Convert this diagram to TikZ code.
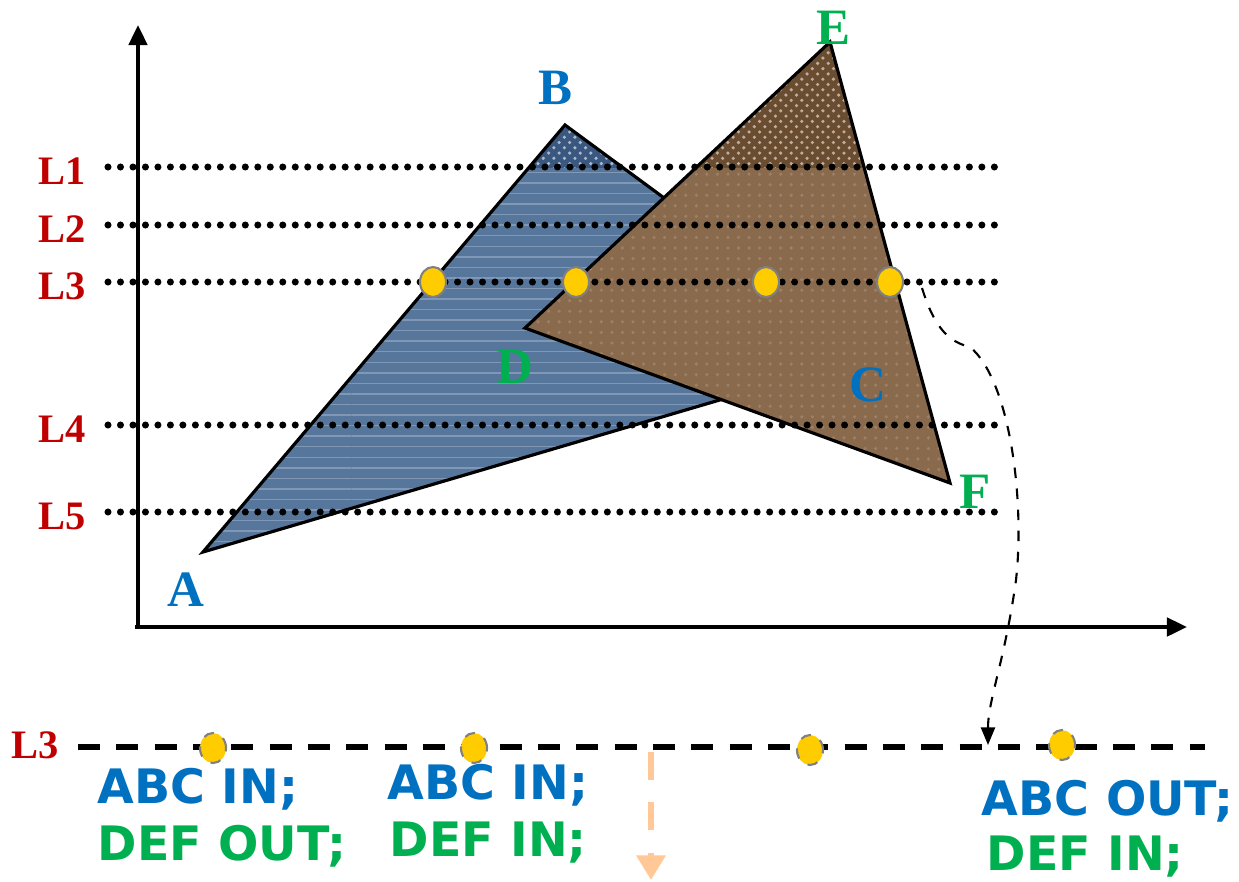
\documentclass[tikz,border=0pt]{standalone}
\usepackage{fontspec}
\setmainfont{Liberation Serif}
\newfontfamily\statusfont{DejaVu Sans}
\usepackage{tikz}
\usetikzlibrary{arrows.meta,patterns,shapes.geometric}
\definecolor{abcblue}{HTML}{0070C0}
\definecolor{defgreen}{HTML}{00B050}
\definecolor{levelred}{HTML}{C00000}
\definecolor{abcfill}{HTML}{56769C}
\definecolor{abctop}{HTML}{3A5780}
\definecolor{deffill}{HTML}{8A6A4C}
\definecolor{deftop}{HTML}{6A4C30}
\definecolor{dotyellow}{HTML}{FFCC00}
\definecolor{scanorange}{HTML}{FFC896}
\tikzset{
  ptlabel/.style={font=\bfseries\fontsize{14.5}{16}\selectfont, inner sep=0pt},
  lvlabel/.style={levelred, font=\bfseries\fontsize{11.5}{13}\selectfont, inner sep=0pt},
  statustext/.style={font=\statusfont\bfseries\fontsize{13.5}{16}\selectfont, anchor=west, inner sep=0pt},
  levelline/.style={line width=2pt, dash pattern=on 0pt off 3.55pt, line cap=round},
  edge/.style={line width=0.9pt, line join=miter},
  xsect/.style={ellipse, fill=dotyellow, draw=gray, line width=0.6pt,
    minimum width=0.26cm, minimum height=0.30cm, inner sep=0pt},
  axis/.style={line width=1.1pt, -{Triangle[length=5.7pt,width=5.2pt]}}
}

\begin{document}
\begin{tikzpicture}[x=0.01cm,y=-0.01cm]
  \useasboundingbox (0,0) rectangle (1239,881);
  % axes
  \coordinate (origin) at (138,627);
  \coordinate (ytip) at (138,25);
  \coordinate (xtip) at (1187,627);
  \draw[axis] (origin) -- (ytip);
  \draw[axis] (135,627) -- (xtip);
  % triangle ABC (C is hidden behind DEF)
  \coordinate (A) at (203,552);
  \coordinate (B) at (565,125);
  \coordinate (C) at (876,354);
  \fill[abcfill] (A) -- (B) -- (C) -- cycle;
  \fill[pattern=horizontal lines, pattern color=abcfill!75!white] (A) -- (B) -- (C) -- cycle;
  \begin{scope}
    \clip (0,0) rectangle (1239,167);
    \fill[abctop] (A) -- (B) -- (C) -- cycle;
    \fill[pattern=crosshatch dots, pattern color=abcfill!50!white] (A) -- (B) -- (C) -- cycle;
  \end{scope}
  \draw[edge] (A) -- (B) -- (C) -- cycle;
  % triangle DEF
  \coordinate (D) at (525,328);
  \coordinate (E) at (830,42);
  \coordinate (F) at (950,483);
  \fill[deffill] (D) -- (E) -- (F) -- cycle;
  \fill[pattern=dots, pattern color=deffill!85!white] (D) -- (E) -- (F) -- cycle;
  \begin{scope}
    \clip (0,0) rectangle (1239,167);
    \fill[deftop] (D) -- (E) -- (F) -- cycle;
    \fill[pattern=crosshatch dots, pattern color=deffill!55!white] (D) -- (E) -- (F) -- cycle;
  \end{scope}
  \draw[edge] (D) -- (E) -- (F) -- cycle;
  % vertex labels
  \node[ptlabel,abcblue] (la) at (186,590) {A};
  \node[ptlabel,abcblue] (lb) at (556,88) {B};
  \node[ptlabel,abcblue] (lc) at (868,385) {C};
  \node[ptlabel,defgreen] (ld) at (515,367) {D};
  \node[ptlabel,defgreen] (le) at (833,28) {E};
  \node[ptlabel,defgreen] (lf) at (975,492) {F};
  % scan lines
  \foreach \name/\yy in {L1/167,L2/225,L3/282,L4/425,L5/512}{
    \draw[levelline] (108,\yy) -- (1003,\yy);
    \node[lvlabel] (lab\name) at (62,\yy+4) {\name};
  }
  % crossings on L3
  \node[xsect] (x1) at (433,282) {};
  \node[xsect] (x2) at (576,282) {};
  \node[xsect] (x3) at (766,282) {};
  \node[xsect] (x4) at (890,282) {};
  % L3 taken out
  \node[lvlabel] (labL3b) at (35,745) {L3};
  \draw[line width=1.6pt, dash pattern=on 6.3pt off 4.6pt] (78,747) -- (1205,747);
  \node[xsect,dashed] (b1) at (213,748) {};
  \node[xsect,dashed] (b2) at (474,748) {};
  \node[xsect,dashed] (b3) at (810,750) {};
  \node[xsect,dashed] (b4) at (1062,745) {};
  \coordinate (bendstart) at (922,288);
  \coordinate (bendend) at (988,745);
  \draw[dashed, line width=0.6pt, -{Triangle[length=5pt,width=4pt]}] (bendstart)
    .. controls (935,330) and (950,342) .. (970,347)
    .. controls (1010,380) and (1025,500) .. (1016,580)
    .. controls (1005,660) and (988,700) .. (bendend);
  \coordinate (scantop) at (651,752);
  \coordinate (scanbot) at (651,880);
  \draw[scanorange, line width=1.7pt, dash pattern=on 8pt off 6.3pt,
    -{Triangle[length=7pt,width=8pt]}] (scantop) -- (scanbot);
  % states along L3
  \node[statustext,abcblue] (s1a) at (97,789) {ABC IN;};
  \node[statustext,defgreen] (s1b) at (97,846) {DEF OUT;};
  \node[statustext,abcblue] (s2a) at (387,785) {ABC IN;};
  \node[statustext,defgreen] (s2b) at (389,843) {DEF IN;};
  \node[statustext,abcblue] (s3a) at (981,801) {ABC OUT;};
  \node[statustext,defgreen] (s3b) at (986,857) {DEF IN;};
\end{tikzpicture}
\end{document}
